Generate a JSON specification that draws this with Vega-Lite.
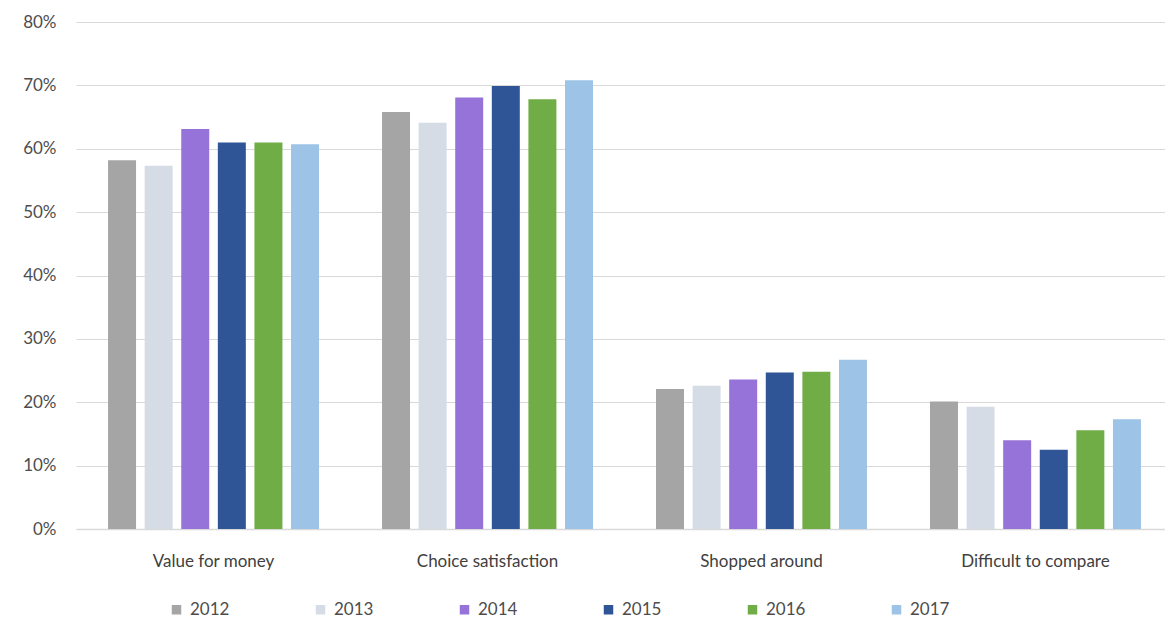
{
  "$schema": "https://vega.github.io/schema/vega-lite/v6.json",
  "width": 1097,
  "height": 507,
  "autosize": {"type": "none"},
  "padding": {"left": 76, "top": 22, "right": 0, "bottom": 93},
  "background": "white",
  "config": {
    "view": {"stroke": null},
    "font": "Lato",
    "axis": {"labelColor": "#595959", "labelFont": "Lato", "titleFont": "Lato"},
    "legend": {"labelFont": "Lato"}
  },
  "data": {
    "values": [
      {"measure": "Value for money", "year": "2012", "share": 0.582},
      {"measure": "Value for money", "year": "2013", "share": 0.573},
      {"measure": "Value for money", "year": "2014", "share": 0.631},
      {"measure": "Value for money", "year": "2015", "share": 0.610},
      {"measure": "Value for money", "year": "2016", "share": 0.610},
      {"measure": "Value for money", "year": "2017", "share": 0.607},
      {"measure": "Choice satisfaction", "year": "2012", "share": 0.658},
      {"measure": "Choice satisfaction", "year": "2013", "share": 0.641},
      {"measure": "Choice satisfaction", "year": "2014", "share": 0.681},
      {"measure": "Choice satisfaction", "year": "2015", "share": 0.699},
      {"measure": "Choice satisfaction", "year": "2016", "share": 0.678},
      {"measure": "Choice satisfaction", "year": "2017", "share": 0.708},
      {"measure": "Shopped around", "year": "2012", "share": 0.221},
      {"measure": "Shopped around", "year": "2013", "share": 0.226},
      {"measure": "Shopped around", "year": "2014", "share": 0.236},
      {"measure": "Shopped around", "year": "2015", "share": 0.247},
      {"measure": "Shopped around", "year": "2016", "share": 0.248},
      {"measure": "Shopped around", "year": "2017", "share": 0.267},
      {"measure": "Difficult to compare", "year": "2012", "share": 0.201},
      {"measure": "Difficult to compare", "year": "2013", "share": 0.193},
      {"measure": "Difficult to compare", "year": "2014", "share": 0.140},
      {"measure": "Difficult to compare", "year": "2015", "share": 0.125},
      {"measure": "Difficult to compare", "year": "2016", "share": 0.156},
      {"measure": "Difficult to compare", "year": "2017", "share": 0.173}
    ]
  },
  "mark": {"type": "bar"},
  "encoding": {
    "x": {
      "field": "measure",
      "type": "nominal",
      "sort": null,
      "scale": {"paddingInner": 0.23, "paddingOuter": 0.117},
      "axis": {
        "title": null,
        "labelAngle": 0,
        "labelFontSize": 17,
        "labelColor": "#404040",
        "labelPadding": 24,
        "ticks": false,
        "domainColor": "#D9D9D9",
        "domainWidth": 1.5,
        "grid": false
      }
    },
    "xOffset": {
      "field": "year",
      "type": "nominal",
      "scale": {"paddingInner": 0.235, "paddingOuter": 0}
    },
    "y": {
      "field": "share",
      "type": "quantitative",
      "scale": {"domain": [0, 0.8]},
      "axis": {
        "title": null,
        "format": ".0%",
        "values": [0, 0.1, 0.2, 0.3, 0.4, 0.5, 0.6, 0.7, 0.8],
        "labelFontSize": 17,
        "labelColor": "#4d4d4d",
        "labelPadding": 20,
        "ticks": false,
        "domain": false,
        "gridColor": "#D9D9D9",
        "gridWidth": 1.2
      }
    },
    "color": {
      "field": "year",
      "type": "nominal",
      "scale": {
        "domain": ["2012", "2013", "2014", "2015", "2016", "2017"],
        "range": ["#A5A5A5", "#D6DCE5", "#9673D8", "#2F5597", "#70AD47", "#9DC3E6"]
      },
      "legend": {
        "title": null,
        "orient": "none",
        "direction": "horizontal",
        "legendX": 92,
        "legendY": 579,
        "columns": 6,
        "columnPadding": 82,
        "symbolType": "square",
        "symbolSize": 90,
        "symbolStrokeWidth": 0,
        "labelFontSize": 17,
        "labelColor": "#4d4d4d",
        "labelOffset": 5
      }
    }
  }
}
